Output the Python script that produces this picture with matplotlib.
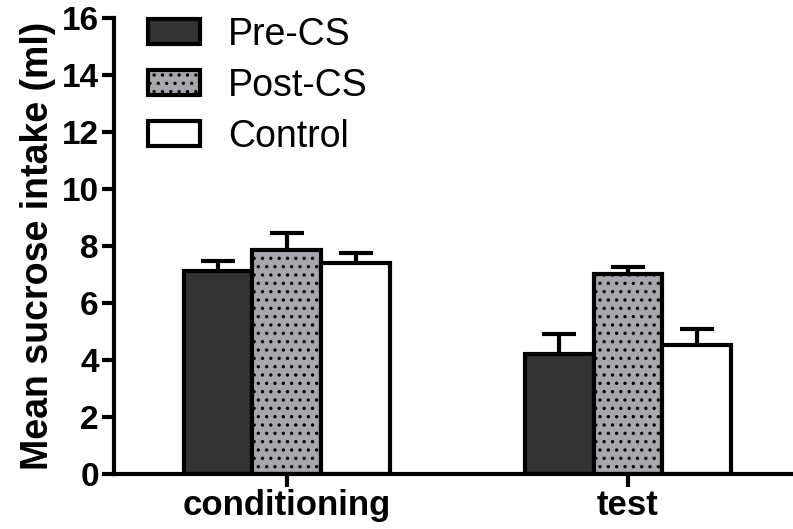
import numpy as np
import matplotlib.pyplot as plt

plt.rcParams['font.family'] = ['Liberation Sans', 'DejaVu Sans']

# data
groups = ['conditioning', 'test']
series = ['Pre-CS', 'Post-CS', 'Control']
means = {
    'Pre-CS': [7.12, 4.20],
    'Post-CS': [7.85, 7.03],
    'Control': [7.41, 4.53],
}
sems = {
    'Pre-CS': [0.37, 0.71],
    'Post-CS': [0.61, 0.24],
    'Control': [0.33, 0.55],
}
colors = {'Pre-CS': '#333333', 'Post-CS': '#a7a7ad', 'Control': 'white'}
hatches = {'Pre-CS': None, 'Post-CS': '..', 'Control': None}

fig = plt.figure(figsize=(7.93, 5.29), dpi=100)
ax = fig.add_axes([0.1438, 0.104, 0.8562, 0.862])

x = np.arange(len(groups))
w = 0.202
plt.rcParams['hatch.linewidth'] = 1.2

for i, s in enumerate(series):
    pos = x + (i - 1) * w
    ax.errorbar(pos, means[s], yerr=sems[s], fmt='none', ecolor='black',
                elinewidth=3, capsize=12, capthick=3, zorder=1)
    ax.bar(pos, means[s], width=w, color=colors[s], edgecolor='black',
           linewidth=3, hatch=hatches[s], label=s, zorder=2)

ax.set_xlim(-0.507, 1.484)
ax.set_ylim(0, 16)
ax.set_yticks(np.arange(0, 17, 2))
ax.set_xticks(x)
ax.set_xticklabels(groups, fontsize=25, fontweight='bold')
for lab in ax.get_yticklabels():
    lab.set_fontsize(24)
    lab.set_fontweight('bold')
ax.set_ylabel('Mean sucrose intake (ml)', fontsize=27, fontweight='bold', labelpad=4)

for side in ['top', 'right']:
    ax.spines[side].set_visible(False)
for side in ['left', 'bottom']:
    ax.spines[side].set_linewidth(3)
ax.tick_params(width=3, length=9, pad=2)

ax.legend(loc='upper left', bbox_to_anchor=(0.05, 1.003), frameon=False,
          fontsize=27, handlelength=1.39, handleheight=0.67, labelspacing=0.4,
          handletextpad=0.75, borderpad=0, borderaxespad=0)

fig.savefig('out.png', dpi=100)
